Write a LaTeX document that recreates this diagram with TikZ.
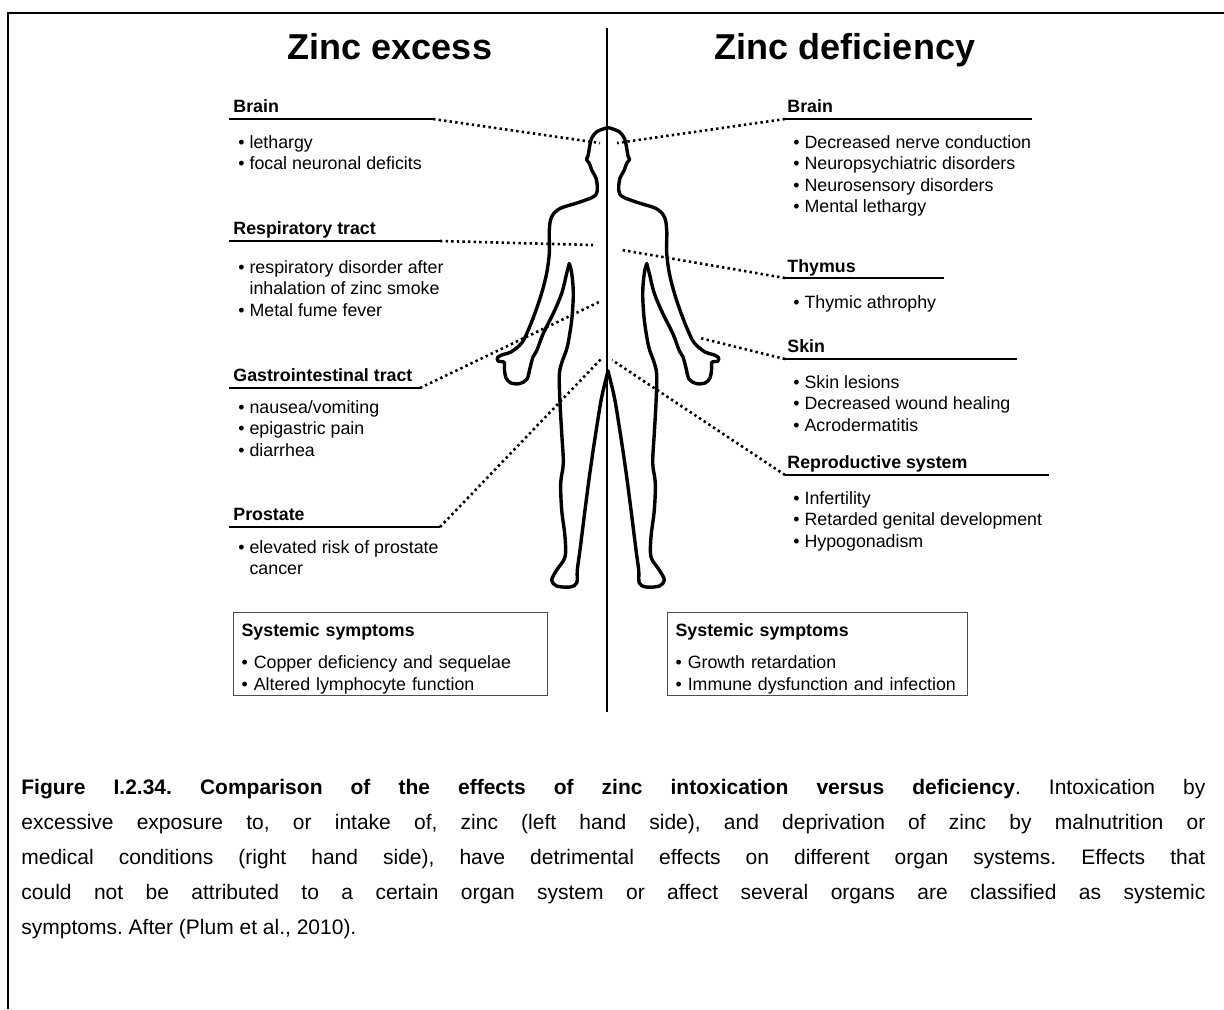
\documentclass[tikz,border=0pt]{standalone}
\usepackage{fontspec}
\setmainfont{Liberation Sans}
\frenchspacing

\newcommand\zttl{\fontsize{18}{21}\selectfont\bfseries}
\newcommand\zorg{\fontsize{8.9}{10.75}\selectfont\bfseries}
\newcommand\zitm{\fontsize{8.9}{10.75}\selectfont}
\newcommand\zcap{\fontsize{10.5}{17.5}\selectfont}
\newcommand\blt{\textbullet\ }
\newcommand\bltin{\hphantom{\textbullet\ }}

\tikzset{
 organ/.style={anchor=base west,inner sep=0pt,font=\zorg},
 items/.style={anchor=north west,inner sep=0pt,align=left,font=\zitm},
 sysbox/.style={draw=black!70,line width=.6pt,anchor=north west,inner xsep=4pt,inner ysep=1pt,align=left,font=\zitm},
 rule/.style={line width=1.4pt},
 link/.style={line width=1.3pt,dash pattern=on 1.2pt off 1.6pt},
 body/.style={line width=1.7pt,line join=round,line cap=round},
}

\begin{document}
\begin{tikzpicture}[x=.5pt,y=-.5pt]
\useasboundingbox (0,0) rectangle (1224,1009);
% frame and middle line
\draw[line width=1.4pt] (1224,13)--(8,13)--(8,1009);
\draw[line width=1.3pt] (607,28)--(607,712);

\node[anchor=base,font=\zttl] (excess) at (390,59) {Zinc excess};
\node[anchor=base,font=\zttl] (deficit) at (845,59) {Zinc deficiency};

% body outline, left half and its mirror
\foreach \m/\s in {0/1,1216/-1}{
\begin{scope}[shift={(\m,0)},xscale=\s]
\draw[body] plot[smooth,tension=.55] coordinates {(608,127.5) (597,131.5) (591.5,138.5) (589.3,148.3) (588,156) (586.5,159.5) (589.5,163.5) (591.7,170) (596,178) (597.3,187) (596.5,193.5) (592,197.5) (577,203) (560,208.5) (551.7,216.7) (549.3,230) (549.3,253) (546.7,273) (541.7,293) (535,313) (528.3,330) (521.7,343) (511,352) (503,354.5) (497.5,357.5) (498.5,361.5) (504,362) (504.5,370) (506,378) (511,383) (520,383.5) (527,379) (530,368) (533,357) (537,350) (543.3,333.3) (553.3,313.3) (561.7,293.3) (566.7,273.3) (569.3,263.5)};
\draw[body] plot[smooth,tension=.55] coordinates {(569.3,263.5) (571.7,273.3) (573.3,293.3) (571.7,320) (567.3,346.7) (562,362) (559.3,375) (560,403) (561.7,433) (563.3,463) (560.7,483) (561.7,510) (565,537) (565,557) (556.7,570) (551.7,580) (556.7,586) (570,587) (576.7,583) (577.3,570) (580,550) (585,510) (589.3,477) (591.7,460) (596.7,427) (601.7,397) (608,371)};
\end{scope}
}

% points on the body
\coordinate (headL) at (600,143);
\coordinate (headR) at (617,143);
\coordinate (chestL) at (593,245);
\coordinate (chestR) at (622,250);
\coordinate (bellyL) at (599,302);
\coordinate (handR) at (700,338);
\coordinate (groinL) at (602,358);
\coordinate (groinR) at (612,360);

% zinc excess
\node[organ] (brainL) at (233,112) {Brain};
\draw[rule] (229,119)--(433,119) coordinate (brainLe);
\node[items] (brainLtx) at (238,135) {\blt lethargy\\ \blt focal neuronal deficits};

\node[organ] (respL) at (233,234) {Respiratory tract};
\draw[rule] (229,241)--(440,241) coordinate (respLe);
\node[items] (respLtx) at (238,260) {\blt respiratory disorder after\\ \bltin inhalation of zinc smoke\\ \blt Metal fume fever};

\node[organ] (giL) at (233,381) {Gastrointestinal tract};
\draw[rule] (229,388)--(420,388) coordinate (giLe);
\node[items] (giLtx) at (238,400) {\blt nausea/vomiting\\ \blt epigastric pain\\ \blt diarrhea};

\node[organ] (prosL) at (233,520) {Prostate};
\draw[rule] (229,527)--(440,527) coordinate (prosLe);
\node[items] (prosLtx) at (238,540) {\blt elevated risk of prostate\\ \bltin cancer};

\node[sysbox,text width=149pt] (sysL) at (233,612) {\rule{0pt}{11pt}\textbf{Systemic symptoms}\\[5.25pt] \blt Copper deficiency and sequelae\\ \blt Altered lymphocyte function};

% zinc deficiency
\node[organ] (brainR) at (787,112) {Brain};
\draw[rule] (1032,119)--(785,119) coordinate (brainRe);
\node[items] (brainRtx) at (793,135) {\blt Decreased nerve conduction\\ \blt Neuropsychiatric disorders\\ \blt Neurosensory disorders\\ \blt Mental lethargy};

\node[organ] (thymR) at (787,272) {Thymus};
\draw[rule] (944,278)--(785,278) coordinate (thymRe);
\node[items] (thymRtx) at (793,295) {\blt Thymic athrophy};

\node[organ] (skinR) at (787,352) {Skin};
\draw[rule] (1017,359)--(785,359) coordinate (skinRe);
\node[items] (skinRtx) at (793,375) {\blt Skin lesions\\ \blt Decreased wound healing\\ \blt Acrodermatitis};

\node[organ] (reprR) at (787,468) {Reproductive system};
\draw[rule] (1049,475)--(785,475) coordinate (reprRe);
\node[items] (reprRtx) at (793,491) {\blt Infertility\\ \blt Retarded genital development\\ \blt Hypogonadism};

\node[sysbox,text width=142pt] (sysR) at (667,612) {\rule{0pt}{11pt}\textbf{Systemic symptoms}\\[5.25pt] \blt Growth retardation\\ \blt Immune dysfunction and infection};

% dotted leaders to the body
\draw[link] (brainLe)--(headL);
\draw[link] (respLe)--(chestL);
\draw[link] (giLe)--(bellyL);
\draw[link] (prosLe)--(groinL);
\draw[link] (brainRe)--(headR);
\draw[link] (thymRe)--(chestR);
\draw[link] (skinRe)--(handR);
\draw[link] (reprRe)--(groinR);

% caption
\node[anchor=north west,inner sep=0pt,text width=592pt,align=justify,font=\zcap] (caption) at (21,779) {\textbf{Figure I.2.34. Comparison of the effects of zinc intoxication versus deficiency}. Intoxication by\linebreak excessive exposure to, or intake of, zinc (left hand side), and deprivation of zinc by malnutrition or\linebreak medical conditions (right hand side), have detrimental effects on different organ systems. Effects that\linebreak could not be attributed to a certain organ system or affect several organs are classified as systemic\linebreak symptoms. After (Plum et al., 2010).};
\end{tikzpicture}
\end{document}
